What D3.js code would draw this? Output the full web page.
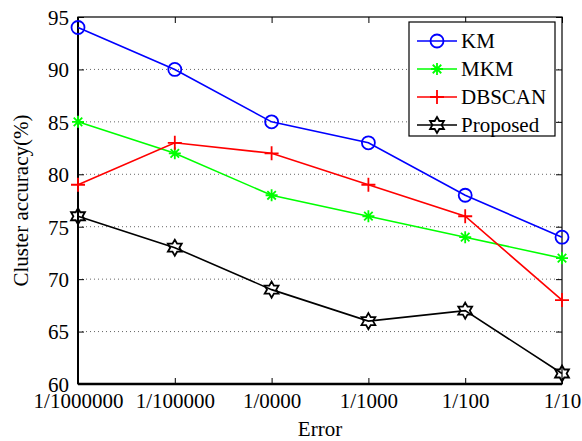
<!DOCTYPE html>
<html>
<head>
<meta charset="utf-8">
<script src="https://cdn.jsdelivr.net/npm/d3@7"></script>
<style>
  body { margin: 0; background: #fff; }
  svg text { font-family: "Liberation Serif", "Times New Roman", serif; fill: #000; }
</style>
</head>
<body>
<script>
var categories = ["1/1000000", "1/100000", "1/0000", "1/1000", "1/100", "1/10"];
var km = [94, 90, 85, 83, 78, 74];
var mkm = [85, 82, 78, 76, 74, 72];
var dbscan = [79, 83, 82, 79, 76, 68];
var proposed = [76, 73, 69, 66, 67, 61];
var yTicks = [60, 65, 70, 75, 80, 85, 90, 95];

var series = [
    {name: "KM", values: km, color: "#0000ff", marker: "circle"},
    {name: "MKM", values: mkm, color: "#00ff00", marker: "asterisk"},
    {name: "DBSCAN", values: dbscan, color: "#ff0000", marker: "plus"},
    {name: "Proposed", values: proposed, color: "#000000", marker: "hexagram"}
];

var width = 582,
    height = 441,
    plotLeft = 78,
    plotRight = 562,
    plotTop = 17,
    plotBottom = 384,
    fontSize = "21px",
    serif = "'Liberation Serif', 'Times New Roman', serif";

var svg = d3.select("body")
    .append("svg")
    .attr("width", width)
    .attr("height", height);

var x = d3.scalePoint()
    .domain(categories)
    .range([plotLeft, plotRight]);

var y = d3.scaleLinear()
    .domain([60, 95])
    .range([plotBottom, plotTop]);

// grid lines (y only, dotted)
svg.append("g")
    .selectAll("line")
    .data(yTicks.slice(1, -1))
    .enter()
    .append("line")
    .attr("x1", plotLeft)
    .attr("x2", plotRight)
    .attr("y1", function(d) { return y(d); })
    .attr("y2", function(d) { return y(d); })
    .attr("stroke", "#666")
    .attr("stroke-width", 1)
    .attr("stroke-dasharray", "1,3");

// axes
var xAxis = svg.append("g")
    .attr("transform", "translate(0," + plotBottom + ")")
    .call(d3.axisBottom(x).tickSize(-6).tickPadding(9));
var xAxisTop = svg.append("g")
    .attr("transform", "translate(0," + plotTop + ")")
    .call(d3.axisTop(x).tickSize(-6).tickFormat(""));
var yAxis = svg.append("g")
    .attr("transform", "translate(" + plotLeft + ",0)")
    .call(d3.axisLeft(y).tickValues(yTicks).tickSize(-6).tickPadding(9));
var yAxisRight = svg.append("g")
    .attr("transform", "translate(" + plotRight + ",0)")
    .call(d3.axisRight(y).tickValues(yTicks).tickSize(-6).tickFormat(""));

[xAxis, xAxisTop, yAxis, yAxisRight].forEach(function(g) {
    g.attr("font-family", serif).attr("font-size", fontSize);
    g.select(".domain").remove();
    g.selectAll("line").attr("stroke", "#000").attr("stroke-width", 1);
    g.selectAll("text").attr("fill", "#000");
});
xAxis.selectAll("text").attr("dy", "0.71em");
yAxis.selectAll("text").attr("dy", "0.35em");

// frame
svg.append("rect")
    .attr("x", plotLeft)
    .attr("y", plotTop)
    .attr("width", plotRight - plotLeft)
    .attr("height", plotBottom - plotTop)
    .attr("fill", "none")
    .attr("stroke", "#000")
    .attr("stroke-width", 1.2);
svg.append("line")
    .attr("x1", plotLeft).attr("x2", plotRight)
    .attr("y1", plotBottom).attr("y2", plotBottom)
    .attr("stroke", "#000").attr("stroke-width", 2.5);
svg.append("line")
    .attr("x1", plotLeft).attr("x2", plotLeft)
    .attr("y1", plotTop).attr("y2", plotBottom)
    .attr("stroke", "#000").attr("stroke-width", 2);

function hexagramPath(r) {
    var pts = [];
    for (var i = 0; i < 12; i++) {
        var a = -Math.PI / 2 + i * Math.PI / 6;
        var rr = i % 2 === 0 ? r : r * 0.577;
        pts.push([rr * Math.cos(a), rr * Math.sin(a)]);
    }
    return "M" + pts.map(function(p) { return p[0].toFixed(2) + "," + p[1].toFixed(2); }).join("L") + "Z";
}

function drawMarker(g, type, color) {
    if (type === "circle") {
        g.append("circle").attr("r", 6.5).attr("fill", "none")
            .attr("stroke", color).attr("stroke-width", 1.8);
    } else if (type === "asterisk") {
        var r = 6;
        var d = r * Math.SQRT1_2;
        g.append("path")
            .attr("d", "M" + (-r) + ",0L" + r + ",0M0," + (-r) + "L0," + r +
                "M" + (-d) + "," + (-d) + "L" + d + "," + d +
                "M" + (-d) + "," + d + "L" + d + "," + (-d))
            .attr("stroke", color).attr("stroke-width", 1.8).attr("fill", "none");
    } else if (type === "plus") {
        var p = 7;
        g.append("path")
            .attr("d", "M" + (-p) + ",0L" + p + ",0M0," + (-p) + "L0," + p)
            .attr("stroke", color).attr("stroke-width", 1.8).attr("fill", "none");
    } else {
        g.append("path").attr("d", hexagramPath(8))
            .attr("fill", "none").attr("stroke", color).attr("stroke-width", 1.8);
    }
}

var line = d3.line()
    .x(function(d, i) { return x(categories[i]); })
    .y(function(d) { return y(d); });

series.forEach(function(s) {
    svg.append("path")
        .datum(s.values)
        .attr("d", line)
        .attr("fill", "none")
        .attr("stroke", s.color)
        .attr("stroke-width", 1.6);
    s.values.forEach(function(v, i) {
        var g = svg.append("g")
            .attr("transform", "translate(" + x(categories[i]) + "," + y(v) + ")");
        drawMarker(g, s.marker, s.color);
    });
});

// legend
var legend = svg.append("g");
legend.append("rect")
    .attr("x", 409).attr("y", 22)
    .attr("width", 146).attr("height", 114)
    .attr("fill", "#fff").attr("stroke", "#000").attr("stroke-width", 1.2);
series.forEach(function(s, i) {
    var ly = 41 + i * 28;
    legend.append("line")
        .attr("x1", 417).attr("x2", 457)
        .attr("y1", ly).attr("y2", ly)
        .attr("stroke", s.color).attr("stroke-width", 1.6);
    var g = legend.append("g").attr("transform", "translate(437," + ly + ")");
    drawMarker(g, s.marker, s.color);
    legend.append("text")
        .attr("x", 461).attr("y", ly)
        .attr("dy", "0.35em")
        .style("font-family", serif)
        .style("font-size", fontSize)
        .text(s.name);
});

// axis labels
svg.append("text")
    .attr("x", (plotLeft + plotRight) / 2)
    .attr("y", 436)
    .attr("text-anchor", "middle")
    .style("font-family", serif)
    .style("font-size", fontSize)
    .text("Error");

svg.append("text")
    .attr("transform", "translate(28," + ((plotTop + plotBottom) / 2) + ") rotate(-90)")
    .attr("text-anchor", "middle")
    .style("font-family", serif)
    .style("font-size", fontSize)
    .text("Cluster accuracy(%)");
</script>
</body>
</html>
